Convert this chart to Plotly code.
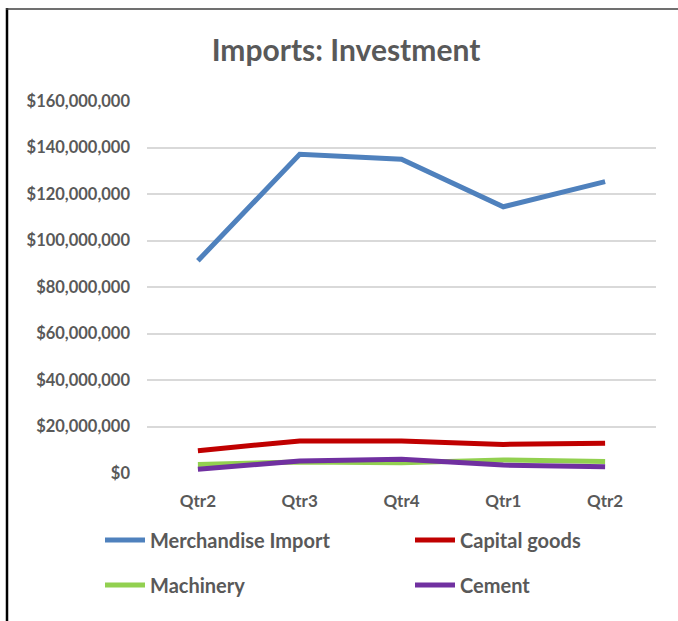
import plotly.graph_objects as go

quarters = ["Qtr2", "Qtr3", "Qtr4", "Qtr1", "Qtr2"]
merchandise_import = [91.3e6, 137.1e6, 135.0e6, 114.5e6, 125.3e6]
capital_goods = [9.6e6, 13.8e6, 13.8e6, 12.3e6, 12.8e6]
machinery = [3.7e6, 4.7e6, 4.4e6, 5.6e6, 4.9e6]
cement = [1.6e6, 5.2e6, 5.9e6, 3.4e6, 2.7e6]

y_ticks = list(range(0, 160_000_001, 20_000_000))
y_ticktext = ["$" + format(v, ",") for v in y_ticks]

W, H = 678, 621
L, R, T, B = 147, 22, 101, 148
pw, ph = W - L - R, H - T - B

def px_x(px):
    return (px - L) / pw

def px_y(py):
    return (H - B - py) / ph

xs = list(range(len(quarters)))
font_fam = "Lato, 'Open Sans', sans-serif"
txt_col = "#595959"

fig = go.Figure()
series = [
    ("Merchandise Import", merchandise_import, "#4F81BD", "legend", 100, 540),
    ("Capital goods", capital_goods, "#C00000", "legend2", 410, 540),
    ("Machinery", machinery, "#92D050", "legend3", 100, 585),
    ("Cement", cement, "#7030A0", "legend4", 410, 585),
]
legends = {}
for name, vals, col, lg, lx, ly in series:
    fig.add_trace(go.Scatter(
        x=xs, y=vals, name=name, mode="lines",
        line=dict(color=col, width=5, shape="linear"),
        legend=lg,
    ))
    legends[lg] = dict(
        x=px_x(lx), y=px_y(ly),
        orientation="h", xanchor="left", yanchor="middle",
        font=dict(family=font_fam, size=20, color=txt_col, weight="bold"),
        bgcolor="rgba(0,0,0,0)", itemwidth=40,
    )

fig.update_layout(
    width=W, height=H,
    margin=dict(l=L, r=R, t=T, b=B, autoexpand=False),
    paper_bgcolor="white", plot_bgcolor="white",
    title=dict(
        text="<b>Imports: Investment</b>",
        x=px_x(346), xref="paper", xanchor="center",
        y=1 - 50 / H, yanchor="middle",
        font=dict(family=font_fam, size=30, color=txt_col),
    ),
    xaxis=dict(
        tickvals=xs, ticktext=[f"<b>{q}</b>" for q in quarters],
        range=[-0.5, len(xs) - 0.5],
        showgrid=False, zeroline=False, showline=False,
        ticks="", ticklabelstandoff=16,
        tickfont=dict(family=font_fam, size=17, color=txt_col),
        fixedrange=True,
    ),
    yaxis=dict(
        tickvals=y_ticks, ticktext=[f"<b>{t}</b>" for t in y_ticktext],
        range=[0, 160_000_000],
        showgrid=True, gridcolor="#D9D9D9", gridwidth=1.5,
        zeroline=False, showline=False, ticks="",
        ticklabelstandoff=16,
        tickfont=dict(family=font_fam, size=16.5, color=txt_col),
        fixedrange=True,
    ),
    showlegend=True,
    shapes=[
        dict(type="line", xref="paper", yref="paper",
             x0=px_x(7), x1=px_x(7), y0=px_y(8), y1=px_y(621),
             line=dict(color="black", width=2.5)),
        dict(type="line", xref="paper", yref="paper",
             x0=px_x(6), x1=px_x(678), y0=px_y(9), y1=px_y(9),
             line=dict(color="#404040", width=1.5)),
    ],
    **legends,
)

fig.write_html("out.html")
